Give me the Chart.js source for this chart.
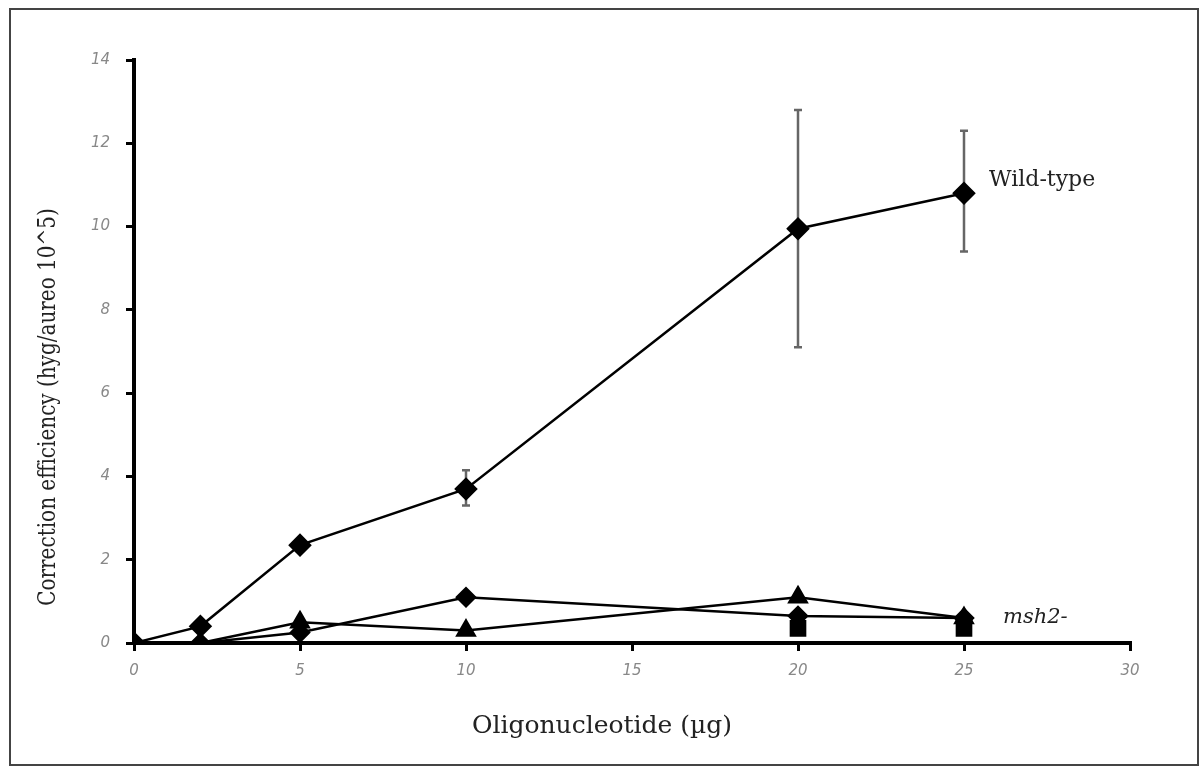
<!DOCTYPE html>
<html>
<head>
<meta charset="utf-8">
<title>Correction efficiency</title>
<script src="https://cdn.jsdelivr.net/npm/chart.js@4/dist/chart.umd.min.js"></script>
<style>
  body { margin: 0; background: #fff; }
  #wrap { position: relative; width: 1204px; height: 774px; }
  #frame { position: absolute; left: 9px; top: 8px; width: 1190px; height: 758px;
           border: 2px solid #444; box-sizing: border-box; pointer-events: none; }
</style>
</head>
<body>
<div id="wrap">
  <canvas id="effChart" width="1204" height="774"></canvas>
  <div id="frame"></div>
</div>
<script>
// values
const doses = [0, 2, 5, 10, 20, 25];
const wildType = [0, 0.4, 2.35, 3.7, 9.95, 10.8];
const wildTypeLow = [null, null, null, 3.3, 7.1, 9.4];
const wildTypeHigh = [null, null, null, 4.15, 12.8, 12.3];
const mshDiamond = [0, 0, 0.25, 1.1, 0.65, 0.6];
const mshTriangle = [0, 0, 0.5, 0.3, 1.1, 0.6];
const mshSquareDoses = [20, 25];
const mshSquare = [0.35, 0.35];

const xTicks = [0, 5, 10, 15, 20, 25, 30];
const yTicks = [0, 2, 4, 6, 8, 10, 12, 14];

const xTitle = "Oligonucleotide (\u00b5g)";
const yTitle = "Correction efficiency (hyg/aureo 10^5)";

const pts = (xs, ys) => xs.map((v, i) => ({ x: v, y: ys[i] }));

// error bars on the wild-type points
const errorBars = {
  id: "errorBars",
  beforeDatasetsDraw(chart) {
    const { ctx, scales: { x, y } } = chart;
    ctx.save();
    ctx.strokeStyle = "#666";
    ctx.lineWidth = 2.5;
    doses.forEach((d, i) => {
      if (wildTypeLow[i] == null) return;
      const px = x.getPixelForValue(d);
      const lo = y.getPixelForValue(wildTypeLow[i]);
      const hi = y.getPixelForValue(wildTypeHigh[i]);
      ctx.beginPath();
      ctx.moveTo(px, lo); ctx.lineTo(px, hi);
      ctx.moveTo(px - 4, lo); ctx.lineTo(px + 4, lo);
      ctx.moveTo(px - 4, hi); ctx.lineTo(px + 4, hi);
      ctx.stroke();
    });
    ctx.restore();
  }
};

// axis titles and series labels
const texts = {
  id: "texts",
  afterDraw(chart) {
    const { ctx, scales: { x, y } } = chart;
    ctx.save();
    ctx.fillStyle = "#222";
    ctx.textBaseline = "middle";
    ctx.textAlign = "center";
    ctx.font = '25px "DejaVu Serif"';
    ctx.fillText(xTitle, 602, 726);
    ctx.translate(48, 407);
    ctx.rotate(-Math.PI / 2);
    ctx.scale(0.8, 1); // the original y title is squeezed along its length
    ctx.fillText(yTitle, 0, 0);
    ctx.restore();

    ctx.save();
    ctx.fillStyle = "#222";
    ctx.textBaseline = "middle";
    ctx.textAlign = "left";
    ctx.font = '22px "DejaVu Serif"';
    ctx.fillText("Wild-type", x.getPixelForValue(25) + 25, y.getPixelForValue(11.1));
    ctx.font = 'italic 21px "DejaVu Serif"';
    ctx.fillText("msh2-", x.getPixelForValue(25) + 39, y.getPixelForValue(0.6));
    ctx.restore();
  }
};

const line = {
  showLine: true,
  borderColor: "#000",
  backgroundColor: "#000",
  pointBackgroundColor: "#000",
  pointBorderColor: "#000",
  borderWidth: 2.5,
  tension: 0
};

const tickFont = { family: "DejaVu Sans", style: "italic", size: 15 };

new Chart(document.getElementById("effChart"), {
  type: "scatter",
  data: {
    datasets: [
      { ...line, label: "msh2- squares", data: pts(mshSquareDoses, mshSquare), showLine: false,
        pointStyle: "rect", pointRadius: 10 },
      { ...line, label: "msh2- triangles", data: pts(doses, mshTriangle),
        pointStyle: "triangle", pointRadius: 10 },
      { ...line, label: "msh2- diamonds", data: pts(doses, mshDiamond),
        pointStyle: "rectRot", pointRadius: 9 },
      { ...line, label: "Wild-type", data: pts(doses, wildType),
        pointStyle: "rectRot", pointRadius: 10 }
    ]
  },
  options: {
    responsive: false,
    animation: false,
    layout: { padding: { left: 0, right: 74, top: 60, bottom: 0 } },
    plugins: { legend: { display: false }, tooltip: { enabled: false } },
    scales: {
      x: {
        type: "linear", min: 0, max: 30,
        afterBuildTicks: s => { s.ticks = xTicks.map(v => ({ value: v })); },
        afterFit: s => { s.height = 131; },
        border: { color: "#000", width: 4 },
        grid: { drawOnChartArea: false, color: "#000", lineWidth: 3, tickLength: 8 },
        ticks: { color: "#888", padding: 11, font: tickFont }
      },
      y: {
        type: "linear", min: 0, max: 14,
        afterBuildTicks: s => { s.ticks = yTicks.map(v => ({ value: v })); },
        afterFit: s => { s.width = 134; },
        border: { color: "#000", width: 4 },
        grid: { drawOnChartArea: false, color: "#000", lineWidth: 3, tickLength: 8 },
        ticks: { color: "#888", padding: 16, font: tickFont }
      }
    }
  },
  plugins: [errorBars, texts]
});
</script>
</body>
</html>
